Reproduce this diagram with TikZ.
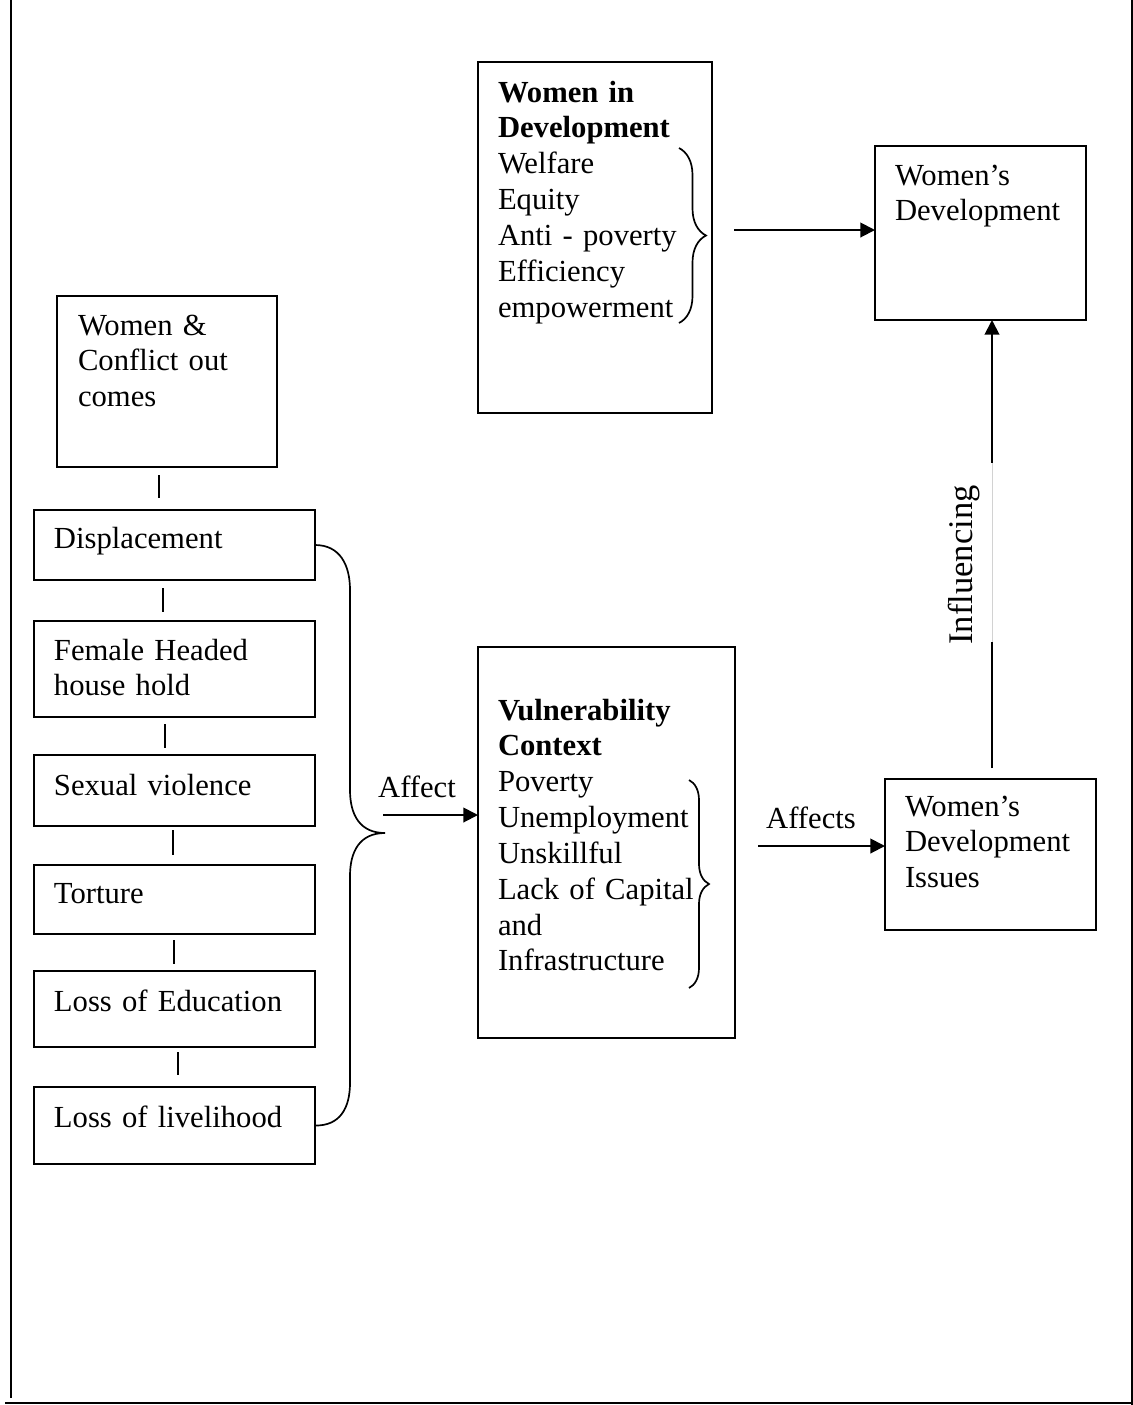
\documentclass[tikz,border=0pt]{standalone}
\usepackage{fontspec}
\setmainfont{Liberation Serif}
\usetikzlibrary{arrows.meta,decorations.pathreplacing}
\def\pxu{0.385pt}
\newcommand\mkbox[5]{\node[box, minimum width={(#4-#2)*\pxu}, minimum height={(#5-#3)*\pxu}] (#1) at (#2,#3) {};}
\begin{document}
\begin{tikzpicture}[x=0.385pt, y=-0.385pt,
  box/.style={draw, line width=0.65pt, inner sep=0pt, outer sep=0pt, anchor=north west},
  txt/.style={inner sep=0pt, outer sep=0pt, font=\fontsize{11.8}{13.8}\selectfont, text width=92pt, align=left},
  lbl/.style={inner sep=0pt, outer sep=0pt, font=\fontsize{11.8}{13.8}\selectfont},
  frame/.style={line width=0.9pt},
  conn/.style={line width=0.65pt},
  arr/.style={line width=0.75pt, -{Triangle[length=5.6pt, width=5.6pt]}},
  brc/.style={line width=0.65pt, decorate}]
\useasboundingbox (0,0) rectangle (1133,1405);
% frame
\draw[frame] (11,0) -- (11,1398);
\draw[frame] (1132,0) -- (1132,1405);
\draw[frame] (5,1403) -- (1133,1403);
% boxes
\mkbox{wid}{478}{62}{712}{413}
\mkbox{wd}{875}{146}{1086}{320}
\mkbox{wco}{57}{296}{277}{467}
\mkbox{disp}{34}{510}{315}{580}
\mkbox{fem}{34}{621}{315}{717}
\mkbox{sex}{34}{755}{315}{826}
\mkbox{tor}{34}{865}{315}{934}
\mkbox{edu}{34}{971}{315}{1047}
\mkbox{liv}{34}{1087}{315}{1164}
\mkbox{vc}{478}{647}{735}{1038}
\mkbox{wdi}{885}{779}{1096}{930}
% texts
\node[txt, anchor=base west] (twid) at (498,102) {{\bfseries Women in\\Development}\\Welfare\\Equity\\Anti - poverty\\Efficiency\\empowerment};
\node[txt, anchor=base west] (twd) at (895,185) {Women’s\\Development};
\node[txt, anchor=base west] (twco) at (78,335) {Women \&\\Conflict out\\comes};
\node[txt, anchor=base west] (tdisp) at (54,548) {Displacement};
\node[txt, anchor=base west] (tfem) at (54,660) {Female Headed\\house hold};
\node[txt, anchor=base west] (tsex) at (54,795) {Sexual violence};
\node[txt, anchor=base west] (ttor) at (54,903) {Torture};
\node[txt, anchor=base west] (tedu) at (54,1011) {Loss of Education};
\node[txt, anchor=base west] (tliv) at (54,1127) {Loss of livelihood};
\node[txt, anchor=base west] (tvc) at (498,720) {{\bfseries Vulnerability\\Context}\\Poverty\\Unemployment\\Unskillful\\Lack of Capital\\and\\Infrastructure};
\node[txt, anchor=base west] (twdi) at (905,816) {Women’s\\Development\\Issues};
% small braces
\draw[brc, decoration={brace, amplitude=10.4pt}] (679,148) -- (679,323);
\draw[brc, decoration={brace, amplitude=7.7pt}] (689,780) -- (689,988);
% vertical connectors
\coordinate (k1) at (159,0);
\coordinate (k2) at (163,0);
\coordinate (k3) at (165,0);
\coordinate (k4) at (173,0);
\coordinate (k5) at (174,0);
\coordinate (k6) at (178,0);
\draw[conn, shorten <=8*\pxu, shorten >=12*\pxu] (wco.south -| k1) -- (disp.north -| k1);
\draw[conn, shorten <=8*\pxu, shorten >=9*\pxu] (disp.south -| k2) -- (fem.north -| k2);
\draw[conn, shorten <=7*\pxu, shorten >=7*\pxu] (fem.south -| k3) -- (sex.north -| k3);
\draw[conn, shorten <=4*\pxu, shorten >=10*\pxu] (sex.south -| k4) -- (tor.north -| k4);
\draw[conn, shorten <=6*\pxu, shorten >=7*\pxu] (tor.south -| k5) -- (edu.north -| k5);
\draw[conn, shorten <=5*\pxu, shorten >=12*\pxu] (edu.south -| k6) -- (liv.north -| k6);
% big brace
\draw[conn] (disp.east) .. controls (340,545) and (350,565) .. (350,590) -- (350,790)
  .. controls (350,815) and (360,833) .. (385,833)
  .. controls (360,833) and (350,851) .. (350,876) -- (350,1083)
  .. controls (350,1108) and (340,1126) .. (liv.east);
% arrows
\coordinate (a1) at (0,230);
\draw[arr, shorten <=22*\pxu] (wid.east |- a1) -- (wd.west |- a1);
\coordinate (affs) at (383,815);
\draw[arr] (affs) -- (vc.west |- affs);
\node[lbl, anchor=base] (laff) at (417,797) {Affect};
\coordinate (a3) at (0,846);
\draw[arr, shorten <=23*\pxu] (vc.east |- a3) -- (wdi.west |- a3);
\node[lbl, anchor=base] (laffs) at (811,828) {Affects};
\coordinate (i0) at (992,0);
\draw[arr, shorten <=11*\pxu] (wdi.north -| i0) -- (wd.south -| i0);
\fill[white] (984,463) rectangle (1000,642);
\draw[gray!35, line width=0.3pt] (992,463) -- (992,642);
\node[lbl, font=\fontsize{13.3}{15}\selectfont, rotate=90, anchor=base] (linf) at (972,565) {Influencing};
\end{tikzpicture}
\end{document}
